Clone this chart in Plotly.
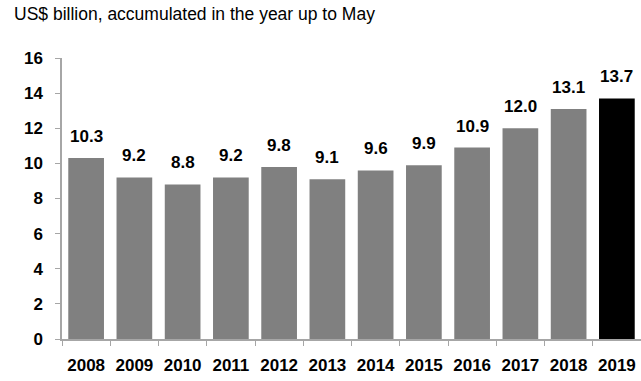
import plotly.graph_objects as go

years = ["2008", "2009", "2010", "2011", "2012", "2013", "2014", "2015", "2016", "2017", "2018", "2019"]
values = [10.3, 9.2, 8.8, 9.2, 9.8, 9.1, 9.6, 9.9, 10.9, 12.0, 13.1, 13.7]
colors = ["#808080"] * 11 + ["#000000"]
y_ticks = [0, 2, 4, 6, 8, 10, 12, 14, 16]

FONT = "Liberation Sans Narrow, Arial Narrow, Liberation Sans, Arial, sans-serif"

fig = go.Figure(go.Bar(x=years, y=values, marker=dict(color=colors, line=dict(width=0)), hoverinfo="skip"))

for i, v in enumerate(values):
    fig.add_annotation(x=i, y=v, text=f"{v:.1f}", showarrow=False, yanchor="bottom", yshift=10,
                       font=dict(family=FONT, size=17, color="#000000", weight="bold"))

fig.add_annotation(xref="paper", yref="paper", x=-0.0864, y=1.158, xanchor="left", yanchor="middle",
                   text="US$ billion, accumulated in the year up to May", showarrow=False,
                   font=dict(family="Liberation Sans, Arial, sans-serif", size=17.5, color="#000000"))

fig.update_layout(
    width=641, height=381,
    margin=dict(l=62, r=0, t=58, b=42),
    paper_bgcolor="white", plot_bgcolor="white",
    bargap=0.26,
    showlegend=False,
    font=dict(family=FONT, color="#000000"),
)
fig.update_xaxes(type="category", range=[-0.5, 11.5], showline=True, linecolor="#a6a6a6", linewidth=1.5,
                 ticks="outside", tickson="boundaries", ticklen=5, tickcolor="#a6a6a6", showgrid=False,
                 tickangle=0, ticklabelstandoff=10,
                 tickfont=dict(family=FONT, size=17, color="#000000", weight="bold"))
fig.update_yaxes(range=[0, 16], tickvals=y_ticks, showline=True, linecolor="#a6a6a6", linewidth=1.5,
                 ticks="outside", ticklen=5, tickcolor="#a6a6a6", showgrid=False, zeroline=False,
                 ticklabelstandoff=9,
                 tickfont=dict(family=FONT, size=17, color="#000000", weight="bold"))

fig.write_html("out.html")
